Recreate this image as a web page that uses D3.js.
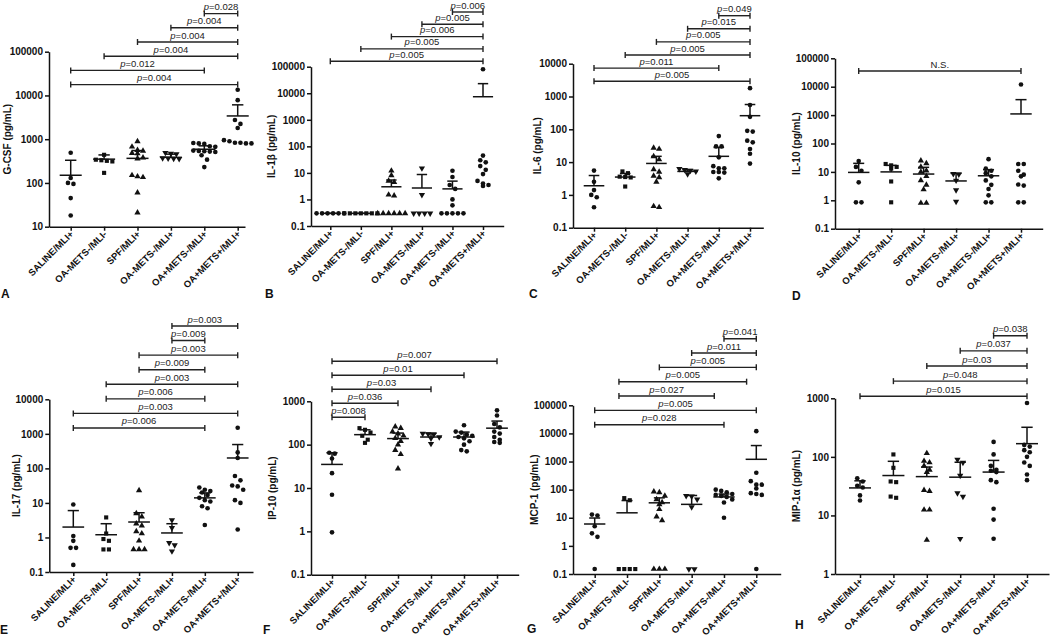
<!DOCTYPE html>
<html>
<head>
<meta charset="utf-8">
<script src="https://cdn.jsdelivr.net/npm/d3@7"></script>
<style>
  body { margin: 0; background: #fff; }
  text { font-family: "Liberation Sans", Arial, sans-serif; }
</style>
</head>
<body>
<div id="fig"></div>
<script>
// group names (same for every panel)
const groups = ["SALINE/MLI+", "OA-METS-/MLI-", "SPF/MLI+", "OA-METS-/MLI+", "OA+METS-/MLI+", "OA+METS+/MLI+"];
// marker per group: circle, square, triangle, inverted triangle, dot, dot
const groupShapes = ["circle", "square", "triangle", "down", "circle", "circle"];

// A: G-CSF
const gcsfValues = [
  [490, 130, 100, 95, 45, 18],
  [440, 340, 330, 320, 310, 170],
  [890, 670, 560, 540, 480, 470, 380, 360, 150, 140, 135, 60, 21],
  [490, 470, 460, 370, 365, 360, 355],
  [820, 800, 780, 690, 670, 550, 540, 530, 520, 510, 430, 340, 230],
  [13500, 7800, 2750, 2240, 1800, 950, 900, 830, 830, 800, 800]
];
const gcsfMean = [150, 350, 365, 385, 590, 3400];
const gcsfUpper = [330, 437, 550, 455, 705, 6100];
const gcsfPairs = [[4, 5], [3, 5], [2, 5], [1, 5], [0, 4], [0, 5]];
const gcsfP = ["0.028", "0.004", "0.004", "0.004", "0.012", "0.004"];

// B: IL-1b
const il1bValues = [
  [0.3, 0.3, 0.3, 0.3, 0.3, 0.3],
  [0.3, 0.3, 0.3, 0.3, 0.3, 0.3, 0.3],
  [12, 8, 5, 4.5, 1.5, 1.4, 0.3, 0.3, 0.3, 0.3, 0.3, 0.3],
  [15, 1.5, 0.3, 0.3, 0.3, 0.3],
  [12, 7, 3.5, 2.5, 1, 0.6, 0.3, 0.3, 0.3, 0.3, 0.3],
  [80000, 45, 30, 25, 18, 13, 9, 5, 4, 3.5, 3.2]
];
const il1bMean = [0.3, 0.3, 3.0, 2.7, 2.5, 7400];
const il1bUpper = [0.3, 0.3, 5.4, 8.7, 4.9, 23000];
const il1bPairs = [[4, 5], [3, 5], [2, 5], [1, 5], [0, 5]];
const il1bP = ["0.006", "0.005", "0.006", "0.005", "0.005"];

// C: IL-6
const il6Values = [
  [5.5, 2.5, 1.4, 1.0, 0.85, 0.42],
  [5.2, 4.6, 3.6, 3.5, 3.4, 1.8],
  [27, 25, 15, 12, 6, 5, 3.8, 3.4, 2.5, 0.45, 0.42],
  [6.2, 5.8, 5.5, 5.2, 4.3],
  [62, 30, 30, 14, 7.5, 6.5, 6.5, 5, 5, 4.8, 3.2],
  [1800, 550, 240, 90, 85, 45, 40, 25, 18, 9]
];
const il6Mean = [1.9, 3.5, 9.1, 5.2, 15, 260];
const il6Upper = [3.9, 4.5, 15, 5.9, 28, 570];
const il6Pairs = [[4, 5], [3, 5], [2, 5], [1, 5], [0, 4], [0, 5]];
const il6P = ["0.049", "0.015", "0.005", "0.005", "0.011", "0.005"];

// D: IL-10
const il10Values = [
  [24, 15, 11, 4.3, 0.85, 0.85],
  [19, 17, 15, 13, 4.6, 0.85],
  [25, 20, 15, 11, 10, 7, 5, 3.5, 2.4, 0.8, 0.8],
  [8.5, 8.2, 5, 2.3, 0.9],
  [28, 13, 11, 9, 7, 5, 3.5, 2.5, 1.5, 0.85, 0.85],
  [12000, 19, 19, 11, 8, 7, 3.6, 3.3, 0.85, 0.85]
];
const il10Mean = [9.6, 10, 8.4, 4.8, 7.3, 1100];
const il10Upper = [20, 17, 14.5, 8.9, 12, 3500];
const il10Pairs = [[0, 5]];
const il10P = ["N.S."];

// E: IL-17
const il17Values = [
  [9, 1.1, 0.8, 0.5, 0.5, 0.16],
  [3.8, 1.3, 0.9, 0.8, 0.45, 0.45],
  [23, 5, 4, 2.5, 2.2, 1.5, 1.3, 0.8, 0.45, 0.45, 0.45],
  [3.2, 1.9, 0.7, 0.6, 0.4],
  [28, 24, 22, 20, 17, 14, 12, 11, 8, 7, 2.3],
  [1500, 290, 200, 60, 45, 32, 30, 24, 12, 10, 1.7]
];
const il17Mean = [2.0, 1.2, 2.8, 1.35, 14, 200];
const il17Upper = [6, 2.5, 5.2, 2.5, 19.5, 490];
const il17Pairs = [[3, 5], [3, 4], [2, 5], [2, 4], [1, 5], [1, 4], [0, 5], [0, 4]];
const il17P = ["0.003", "0.009", "0.003", "0.009", "0.003", "0.006", "0.003", "0.006"];

// F: IP-10
const ip10Values = [
  [65, 62, 48, 22, 7, 0.95],
  [240, 220, 190, 160, 130, 110],
  [260, 240, 200, 180, 160, 140, 120, 100, 75, 60, 28],
  [180, 175, 170, 150, 140, 105],
  [280, 200, 190, 170, 160, 150, 140, 120, 100, 75, 70],
  [620, 470, 300, 250, 200, 180, 150, 130, 115, 110]
];
const ip10Mean = [35, 170, 138, 150, 150, 240];
const ip10Upper = [65, 220, 185, 185, 195, 350];
const ip10Pairs = [[0, 5], [0, 4], [0, 3], [0, 2], [0, 1]];
const ip10P = ["0.007", "0.01", "0.03", "0.036", "0.008"];

// G: MCP-1 (two brackets are drawn a little off the group centres in the original)
const mcp1Values = [
  [13, 12, 5, 2.8, 2.1, 0.15],
  [50, 42, 0.15, 0.15, 0.15, 0.15],
  [85, 80, 60, 45, 35, 30, 20, 11, 8, 0.15, 0.15, 0.15],
  [60, 58, 45, 24, 0.15, 0.15],
  [100, 90, 80, 70, 65, 60, 55, 45, 35, 10],
  [12000, 400, 200, 150, 150, 110, 75, 70, 65, 0.15]
];
const mcp1Mean = [6.0, 15, 34, 30, 55, 1200];
const mcp1Upper = [9.8, 41, 51, 62, 70, 3700];
const mcp1Pairs = [[4, 5], [3, 5], [2, 5], [0.75, 4.7], [0.75, 3.7], [0, 5], [0, 4]];
const mcp1P = ["0.041", "0.011", "0.005", "0.005", "0.027", "0.005", "0.028"];

// H: MIP-1a
const mip1aValues = [
  [43, 38, 32, 30, 22, 18],
  [110, 65, 38, 37, 21, 20],
  [115, 85, 80, 70, 60, 55, 27, 26, 12.5, 12.5, 3.8],
  [90, 80, 48, 24, 21, 4],
  [180, 110, 70, 60, 58, 55, 40, 37, 13, 8.5, 4],
  [830, 160, 150, 130, 120, 100, 80, 70, 50, 40]
];
const mip1aMean = [29.5, 48, 46, 45, 55, 168];
const mip1aUpper = [39, 84, 67, 81, 87, 320];
const mip1aPairs = [[4, 5], [3, 5], [2, 5], [1, 5], [0, 5]];
const mip1aP = ["0.038", "0.037", "0.03", "0.048", "0.015"];

// panel layout (pixel boxes of each axis frame)
const panels = [
  { letter: "A", title: "G-CSF (pg/mL)", values: gcsfValues, mean: gcsfMean, upper: gcsfUpper, pairs: gcsfPairs, pvals: gcsfP,
    domain: [10, 1e5], left: 49, right: 245, top: 51.7, bottom: 226.7, cat0: 70.7, catN: 237.7, brTop: 13.6, brStep: 14.2, titleX: 7, lx: 1, ly: 298 },
  { letter: "B", title: "IL-1β (pg/mL)", values: il1bValues, mean: il1bMean, upper: il1bUpper, pairs: il1bPairs, pvals: il1bP,
    domain: [0.1, 1e5], left: 311, right: 503.7, top: 66.7, bottom: 226, cat0: 330.3, catN: 483, brTop: 12, brStep: 12.3, titleX: 271, lx: 265, ly: 298 },
  { letter: "C", title: "IL-6 (pg/mL)", values: il6Values, mean: il6Mean, upper: il6Upper, pairs: il6Pairs, pvals: il6P,
    domain: [0.1, 1e4], left: 573, right: 763.3, top: 63.7, bottom: 227.7, cat0: 594, catN: 750, brTop: 15.7, brStep: 13.1, titleX: 537, lx: 529, ly: 298 },
  { letter: "D", title: "IL-10 (pg/mL)", values: il10Values, mean: il10Mean, upper: il10Upper, pairs: il10Pairs, pvals: il10P,
    domain: [0.1, 1e5], left: 835, right: 1042.7, top: 58.3, bottom: 228.7, cat0: 858.7, catN: 1021, brTop: 71, brStep: 0, titleX: 796, lx: 792, ly: 300 },
  { letter: "E", title: "IL-17 (pg/mL)", values: il17Values, mean: il17Mean, upper: il17Upper, pairs: il17Pairs, pvals: il17P,
    domain: [0.1, 1e4], left: 49.3, right: 253, top: 399.3, bottom: 572, cat0: 73.3, catN: 237.7, brTop: 326, brStep: 14.57, titleX: 16, lx: 0, ly: 634 },
  { letter: "F", title: "IP-10 (pg/mL)", values: ip10Values, mean: ip10Mean, upper: ip10Upper, pairs: ip10Pairs, pvals: ip10P,
    domain: [0.1, 1e3], left: 311, right: 518.7, top: 401.3, bottom: 574.7, cat0: 332, catN: 497, brTop: 361.3, brStep: 14, titleX: 272, lx: 263, ly: 634 },
  { letter: "G", title: "MCP-1 (pg/mL)", values: mcp1Values, mean: mcp1Mean, upper: mcp1Upper, pairs: mcp1Pairs, pvals: mcp1P,
    domain: [0.1, 1e5], left: 573, right: 780.7, top: 405.3, bottom: 574, cat0: 594.7, catN: 756.3, brTop: 338.7, brStep: 14.33, titleX: 534, lx: 527, ly: 633 },
  { letter: "H", title: "MIP-1α (pg/mL)", values: mip1aValues, mean: mip1aMean, upper: mip1aUpper, pairs: mip1aPairs, pvals: mip1aP,
    domain: [1, 1e3], left: 835, right: 1049, top: 398.3, bottom: 574, cat0: 860, catN: 1027, brTop: 335.7, brStep: 15.15, titleX: 796, lx: 795, ly: 629 }
];

const ink = "#111";
const svg = d3.select("#fig").append("svg").attr("width", 1050).attr("height", 638);
svg.append("rect").attr("width", 1050).attr("height", 638).attr("fill", "#fff");

const symbolFor = {
  circle: d3.symbol().type(d3.symbolCircle).size(17),
  square: d3.symbol().type(d3.symbolSquare).size(17),
  triangle: d3.symbol().type(d3.symbolTriangle).size(17),
  down: d3.symbol().type(d3.symbolTriangle).size(17)
};

// spread points sharing a row sideways, like a GraphPad scatter
function swarm(vals, y, cx) {
  const pts = vals.map(v => ({ v: v, y: y(v) })).sort((a, b) => a.y - b.y);
  const rows = [];
  pts.forEach(p => {
    const r = rows[rows.length - 1];
    if (r && p.y - r[0].y < 4.5) r.push(p); else rows.push([p]);
  });
  rows.forEach(r => r.forEach((p, i) => { p.x = cx + (i - (r.length - 1) / 2) * 5.5; }));
  return pts;
}

panels.forEach(drawPanel);

function drawPanel(p) {
  const g = svg.append("g");
  const step = (p.catN - p.cat0) / 5;
  const x = d3.scaleLinear()
    .domain([(p.left - p.cat0) / step, 5 + (p.right - p.catN) / step])
    .range([p.left, p.right]);
  const y = d3.scaleLog().domain(p.domain).range([p.bottom, p.top]);

  const e0 = Math.round(Math.log10(p.domain[0])), e1 = Math.round(Math.log10(p.domain[1]));
  const ticks = d3.range(e0, e1 + 1).map(e => Math.pow(10, e));

  // y axis
  const ya = g.append("g").attr("transform", `translate(${p.left},0)`)
    .call(d3.axisLeft(y).tickValues(ticks).tickFormat(v => v < 1 ? "0.1" : d3.format("d")(v)).tickSize(4).tickSizeOuter(0));
  ya.selectAll("path, line").attr("stroke", ink).attr("stroke-width", 1.5);
  ya.selectAll("text").attr("font-family", null).attr("font-size", 10).attr("font-weight", "bold").attr("fill", ink).attr("x", -6);

  // x axis
  const xa = g.append("g").attr("transform", `translate(0,${p.bottom})`)
    .call(d3.axisBottom(x).tickValues(d3.range(6)).tickFormat(i => groups[i]).tickSize(4).tickSizeOuter(0));
  xa.selectAll("path, line").attr("stroke", ink).attr("stroke-width", 1.5);
  xa.selectAll("text").attr("font-family", null).attr("font-size", 9.5).attr("font-weight", "bold").attr("fill", ink)
    .attr("text-anchor", "end").attr("x", 0).attr("y", 0).attr("dy", 0)
    .attr("transform", "translate(3,8) rotate(-45)");
  ya.attr("font-family", null); xa.attr("font-family", null);

  // y title
  g.append("text")
    .attr("transform", `translate(${p.titleX},${(p.top + p.bottom) / 2}) rotate(-90)`)
    .attr("text-anchor", "middle").attr("dy", "0.35em")
    .attr("font-size", 10).attr("font-weight", "bold").attr("fill", ink)
    .text(p.title);

  // points
  p.values.forEach((vals, gi) => {
    const pts = swarm(vals, y, x(gi));
    g.selectAll(null).data(pts).enter().append("path")
      .attr("d", symbolFor[groupShapes[gi]])
      .attr("transform", d => `translate(${d.x},${d.y})` + (groupShapes[gi] === "down" ? " rotate(180)" : ""))
      .attr("fill", ink);
  });

  // mean + upper SEM
  const meanW = step * 0.66, capW = step * 0.34;
  const bars = g.selectAll(null).data(d3.range(6)).enter().append("g").attr("stroke", ink).attr("stroke-width", 1.5);
  bars.append("line").attr("x1", i => x(i) - meanW / 2).attr("x2", i => x(i) + meanW / 2)
    .attr("y1", i => y(p.mean[i])).attr("y2", i => y(p.mean[i]));
  bars.append("line").attr("x1", i => x(i)).attr("x2", i => x(i))
    .attr("y1", i => y(p.mean[i])).attr("y2", i => y(p.upper[i]));
  bars.append("line").attr("x1", i => x(i) - capW / 2).attr("x2", i => x(i) + capW / 2)
    .attr("y1", i => y(p.upper[i])).attr("y2", i => y(p.upper[i]));

  // significance brackets
  p.pairs.forEach((pr, i) => {
    const by = p.brTop + i * p.brStep;
    const x1 = x(pr[0]), x2 = x(pr[1]);
    const b = g.append("g").attr("stroke", "#222").attr("stroke-width", 1.4);
    b.append("line").attr("x1", x1).attr("x2", x2).attr("y1", by).attr("y2", by);
    b.append("line").attr("x1", x1).attr("x2", x1).attr("y1", by - 3).attr("y2", by + 3);
    b.append("line").attr("x1", x2).attr("x2", x2).attr("y1", by - 3).attr("y2", by + 3);
    const t = g.append("text").attr("x", (x1 + x2) / 2).attr("y", by - 3.5)
      .attr("text-anchor", "middle").attr("font-size", 9.5).attr("fill", "#222");
    if (p.pvals[i] === "N.S.") {
      t.text("N.S.");
    } else {
      t.append("tspan").attr("font-style", "italic").text("p");
      t.append("tspan").text("=" + p.pvals[i]);
    }
  });

  // panel letter
  g.append("text").attr("x", p.lx).attr("y", p.ly)
    .attr("font-size", 12).attr("font-weight", "bold").attr("fill", ink).text(p.letter);
}
</script>
</body>
</html>
